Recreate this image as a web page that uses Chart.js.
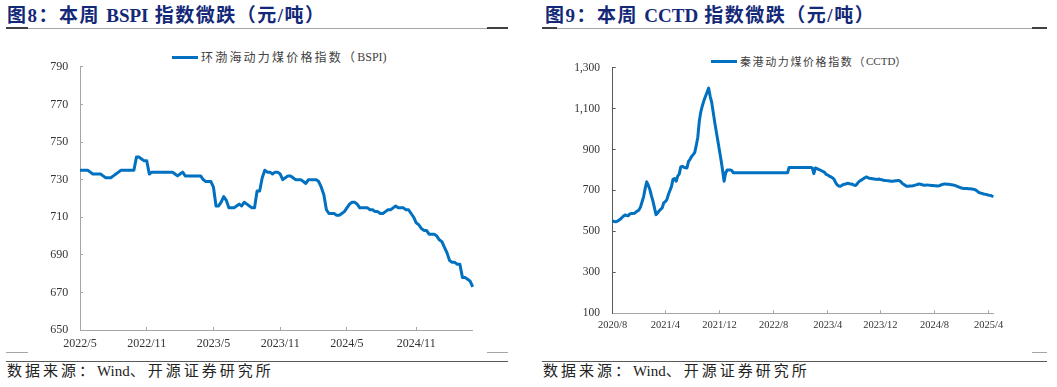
<!DOCTYPE html>
<html>
<head>
<meta charset="utf-8">
<script src="https://cdn.jsdelivr.net/npm/chart.js@4.4.1/dist/chart.umd.min.js"></script>
<style>
html, body { margin: 0; padding: 0; background: #fff; overflow: hidden; }
body { width: 1057px; height: 387px; position: relative; font-family: "Liberation Serif", "Noto Sans CJK SC", serif; }
.title { position: absolute; top: 6px; line-height: 20px; font-size: 19px; font-weight: bold; color: #142878; letter-spacing: 1.5px; white-space: nowrap; }
.rule { position: absolute; height: 1px; background: #a6a6a6; }
.rule.dark { height: 2px; background: #404040; }
.src { position: absolute; top: 362px; line-height: 18px; font-size: 15px; color: #222; letter-spacing: 3px; white-space: nowrap; }
.legend { position: absolute; height: 16px; display: flex; align-items: center; color: #404040; white-space: nowrap; }
.legend i { display: inline-block; width: 26px; height: 3px; background: #0070c0; margin-right: 3px; }
.lat { letter-spacing: 0; }
canvas { position: absolute; }
</style>
</head>
<body>

<div class="title" style="left:7px">图8：本周 <span class="lat">BSPI</span> 指数微跌（元/吨）</div>
<div class="rule" style="left:6px;top:28px;width:502px"></div>
<div class="rule dark" style="left:6px;top:27px;width:22px"></div>
<div class="rule dark" style="left:487px;top:27px;width:21px"></div>

<div class="title" style="left:545px">图9：本周 <span class="lat">CCTD</span> 指数微跌（元/吨）</div>
<div class="rule" style="left:542px;top:28px;width:505px"></div>
<div class="rule dark" style="left:542px;top:27px;width:15px"></div>
<div class="rule dark" style="left:1032px;top:27px;width:15px"></div>

<div class="legend" style="left:172px;top:49px;font-size:12px;letter-spacing:2.2px"><i></i>环渤海动力煤价格指数（<span class="lat">BSPI)</span></div>
<div class="legend" style="left:711px;top:53px;font-size:11px;letter-spacing:1.6px"><i></i>秦港动力煤价格指数（<span class="lat">CCTD</span>）</div>

<canvas id="bspi" width="520" height="310" style="left:20px;top:45px"></canvas>
<canvas id="cctd" width="490" height="310" style="left:550px;top:45px"></canvas>

<div class="rule" style="left:6px;top:352px;width:22px"></div>
<div class="rule" style="left:487px;top:352px;width:21px"></div>
<div class="rule" style="left:6px;top:361px;width:502px;background:#595959"></div>
<div class="rule" style="left:1032px;top:352px;width:15px"></div>
<div class="rule" style="left:542px;top:361px;width:505px;background:#595959"></div>

<div class="src" style="left:7px">数据来源：<span class="lat">Wind</span>、开源证券研究所</div>
<div class="src" style="left:543px">数据来源：<span class="lat">Wind</span>、开源证券研究所</div>

<script>
// weekly series, first week given by start date
const bspiStart = '2022-05-04';
const bspiTicks = ['2022/5', '2022/11', '2023/5', '2023/11', '2024/5', '2024/11'];
const bspiValues = [
  735, 735, 735, 735, 734, 733, 733, 733, 733, 732,
  731, 731, 731, 732, 733, 734, 735, 735, 735, 735,
  735, 735, 742, 742, 741, 740, 740, 733, 734, 734,
  734, 734, 734, 734, 734, 734, 734, 733, 732, 733,
  734, 732, 732, 732, 732, 732, 732, 732, 730, 729,
  729, 729, 726, 716, 716, 718, 721, 719, 715, 715,
  715, 716, 717, 716, 718, 717, 716, 715, 715, 724,
  724, 731, 735, 734, 734, 733, 734, 734, 733, 730,
  731, 732, 732, 731, 730, 730, 730, 729, 728, 730,
  730, 730, 730, 729, 726, 722, 714, 712, 712, 712,
  711, 711, 712, 713, 715, 717, 718, 718, 717, 715,
  715, 715, 715, 714, 714, 713, 713, 712, 712, 713,
  714, 714, 715, 716, 715, 715, 715, 714, 714, 712,
  710, 707, 706, 704, 703, 703, 701, 701, 701, 700,
  698, 697, 694, 691, 687, 686, 686, 685, 685, 678,
  678, 677, 676, 673
];

const cctdStart = '2020-08-07';
const cctdTicks = ['2020/8', '2021/4', '2021/12', '2022/8', '2023/4', '2023/12', '2024/8', '2025/4'];
const cctdValues = [
  552, 548, 547, 550, 555, 560, 568, 575, 580, 578,
  576, 585, 587, 587, 588, 594, 600, 605, 620, 645,
  670, 710, 742, 725, 705, 675, 648, 615, 582, 590,
  600, 608, 615, 640, 645, 655, 680, 700, 720, 755,
  758, 745, 770, 780, 815, 818, 813, 811, 810, 842,
  852, 866, 875, 885, 920, 960, 1040, 1085, 1115, 1140,
  1160, 1180, 1200, 1160, 1130, 1080, 1030, 985, 940, 895,
  850, 800, 745, 785, 800, 800, 800, 797, 786, 786,
  786, 786, 786, 786, 786, 786, 786, 786, 786, 786,
  786, 786, 786, 786, 786, 786, 786, 786, 786, 786,
  786, 786, 786, 786, 786, 786, 786, 786, 786, 786,
  786, 786, 786, 786, 812, 812, 812, 812, 812, 812,
  812, 812, 812, 812, 812, 812, 812, 812, 812, 810,
  782, 810, 807, 803, 800, 796, 792, 788, 778, 775,
  770, 766, 762, 755, 740, 728, 722, 720, 724, 729,
  730, 733, 735, 733, 732, 730, 726, 724, 732, 742,
  748, 752, 757, 762, 766, 762, 759, 758, 757, 756,
  755, 754, 756, 753, 752, 750, 749, 748, 747, 746,
  745, 745, 746, 747, 748, 748, 744, 736, 730, 725,
  721, 721, 722, 722, 723, 725, 727, 729, 732, 730,
  728, 726, 726, 727, 726, 725, 724, 724, 723, 723,
  722, 723, 726, 729, 731, 731, 730, 730, 729, 728,
  727, 725, 722, 719, 716, 713, 711, 710, 710, 709,
  708, 708, 707, 706, 705, 700, 694, 689, 687, 685,
  682, 681, 679, 677, 676, 673, 669
];

function weeklyLabels(start, n) {
  const d = new Date(start + 'T00:00:00Z');
  const out = [];
  for (let i = 0; i < n; i++) {
    out.push(d.getUTCFullYear() + '/' + (d.getUTCMonth() + 1) + '/' + d.getUTCDate());
    d.setUTCDate(d.getUTCDate() + 7);
  }
  return out;
}

// index of the first week of each labelled month
function tickMap(labels, months) {
  const map = {};
  let prev = '';
  labels.forEach((l, i) => {
    const m = l.split('/').slice(0, 2).join('/');
    if (m !== prev && months.includes(m)) map[i] = m;
    prev = m;
  });
  return map;
}

const tickFont = '"Liberation Serif", "Times New Roman", serif';

function drawChart(id, start, values, months, cfg) {
  const labels = weeklyLabels(start, values.length);
  const ticks = tickMap(labels, months);
  return new Chart(document.getElementById(id), {
    type: 'line',
    data: {
      labels: labels,
      datasets: [{
        data: values,
        borderColor: '#0070c0',
        borderWidth: 3,
        borderJoinStyle: 'round',
        pointRadius: 0,
        tension: 0
      }]
    },
    options: {
      responsive: false,
      animation: false,
      layout: { padding: cfg.padding },
      plugins: { legend: { display: false }, tooltip: { enabled: false } },
      scales: {
        x: {
          type: 'category',
          border: { color: cfg.xAxisColor, width: 1 },
          grid: {
            drawOnChartArea: false,
            tickLength: -3,
            tickColor: ctx => ticks[ctx.index] !== undefined ? cfg.xAxisColor : 'rgba(0,0,0,0)'
          },
          ticks: {
            autoSkip: false,
            maxRotation: 0,
            padding: cfg.xPad,
            color: '#333',
            font: { family: tickFont, size: cfg.xFont },
            callback: (v, i) => ticks[i] || ''
          },
          afterFit: s => { s.height = cfg.xHeight; }
        },
        y: {
          min: cfg.min,
          max: cfg.max,
          border: { color: cfg.yAxisColor, width: 1 },
          grid: { drawOnChartArea: false, tickLength: -3, tickColor: cfg.yAxisColor },
          ticks: {
            stepSize: cfg.step,
            padding: cfg.yPad,
            color: '#333',
            font: { family: tickFont, size: cfg.yFont },
            callback: v => v.toLocaleString('en-US')
          },
          afterFit: s => { s.width = cfg.yWidth; }
        }
      }
    }
  });
}

drawChart('bspi', bspiStart, bspiValues, bspiTicks, {
  padding: { top: 20.3, right: 67.3, left: 0, bottom: 0 },
  min: 650, max: 790, step: 20,
  yWidth: 60, xHeight: 25,
  xPad: 10, yPad: 14.7, xFont: 12, yFont: 12,
  xAxisColor: '#a6a6a6', yAxisColor: '#a6a6a6'
});

drawChart('cctd', cctdStart, cctdValues, cctdTicks, {
  padding: { top: 20.3, right: 46.7, left: 0, bottom: 0 },
  min: 100, max: 1300, step: 200,
  yWidth: 62.7, xHeight: 41.7,
  xPad: 9, yPad: 15.7, xFont: 10.5, yFont: 11.5,
  xAxisColor: '#a6a6a6', yAxisColor: '#595959'
});
</script>
</body>
</html>
